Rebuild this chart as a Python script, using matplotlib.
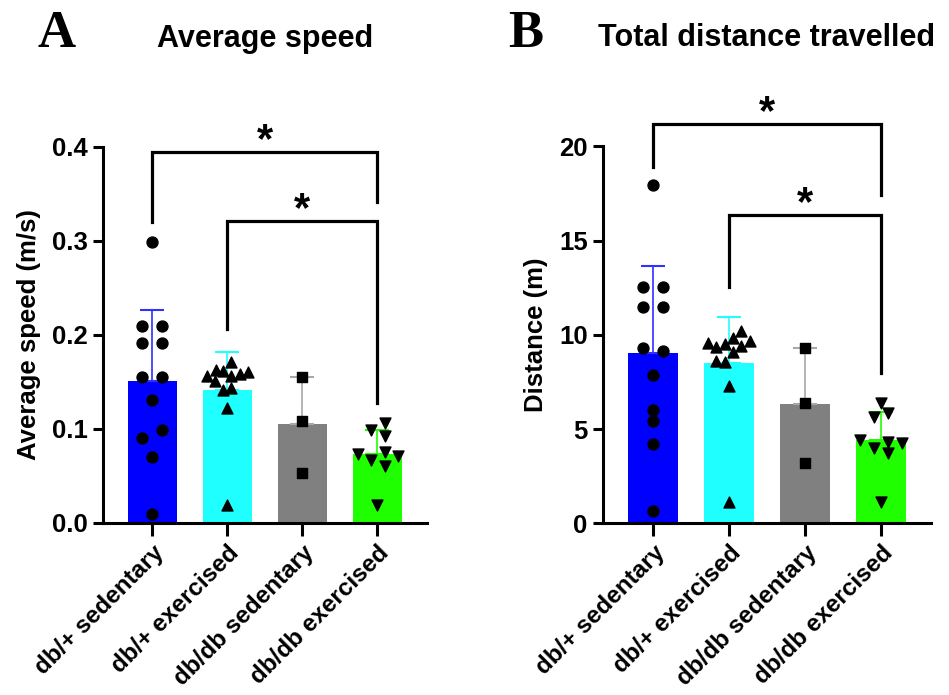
import matplotlib
matplotlib.use('Agg')
import matplotlib.pyplot as plt
import numpy as np

plt.rcParams['font.family'] = ['Liberation Sans', 'DejaVu Sans']
plt.rcParams['font.weight'] = 'bold'

# Groups and bar values (mean, SD)
groups = ['db/+ sedentary', 'db/+ exercised', 'db/db sedentary', 'db/db exercised']
bar_colors = ['#0000ff', '#20ffff', '#808080', '#20ff00']
err_colors = ['#3030ff', '#20ffff', '#a8a8a8', '#20ff00']
markers = ['o', '^', 's', 'v']

speed_mean = [0.151, 0.142, 0.105, 0.073]
speed_sd = [0.076, 0.040, 0.050, 0.026]
distance_mean = [9.05, 8.48, 6.31, 4.42]
distance_sd = [4.59, 2.47, 2.97, 1.50]

# Individual animals
speed_sed_het = [0.299, 0.210, 0.210, 0.191, 0.191, 0.155, 0.155, 0.131, 0.099, 0.090, 0.070, 0.010]
speed_ex_het = [0.171, 0.163, 0.162, 0.156, 0.159, 0.161, 0.156, 0.151, 0.142, 0.144, 0.122, 0.019]
speed_sed_db = [0.155, 0.108, 0.053]
speed_ex_db = [0.106, 0.099, 0.093, 0.073, 0.067, 0.075, 0.071, 0.061, 0.019]

dist_sed_het = [17.94, 12.55, 12.55, 11.49, 11.49, 9.28, 9.15, 7.86, 6.01, 5.44, 4.19, 0.67]
dist_ex_het = [10.21, 9.81, 9.68, 9.58, 9.33, 9.51, 9.40, 9.07, 8.62, 8.54, 7.28, 1.15]
dist_sed_db = [9.28, 6.39, 3.21]
dist_ex_db = [6.39, 5.62, 5.83, 4.42, 3.98, 4.33, 4.27, 3.71, 1.15]

# horizontal scatter of the points (layout only)
speed_jitter = [
    [0, -0.133, 0.133, -0.133, 0.133, -0.133, 0.133, 0, 0.133, -0.133, 0, 0],
    [0.053, -0.156, -0.053, -0.276, 0.169, 0.276, 0.053, -0.169, -0.053, 0.053, 0, 0],
    [0, 0, 0],
    [0.098, -0.08, 0.098, -0.258, -0.08, 0.098, 0.276, 0.098, 0],
]
dist_jitter = [
    [0, -0.13, 0.13, -0.13, 0.13, -0.13, 0.13, 0, 0, 0, 0, 0],
    [0.162, 0.053, 0.272, -0.276, -0.167, -0.057, 0.162, 0.053, -0.167, -0.057, 0, 0],
    [0, 0, 0],
    [0, -0.096, 0.088, -0.272, -0.088, 0.088, 0.276, 0.088, 0],
]

# significance brackets: (from group, to group, top, left leg end, right leg end)
speed_sig = [(0, 3, 0.395, 0.320, 0.342), (1, 3, 0.321, 0.206, 0.128)]
dist_sig = [(0, 3, 21.16, 18.88, 17.4), (1, 3, 16.35, 12.55, 7.95)]


def draw_panel(ax, means, sds, points, jitter, sig, ymax, yticks, ylabel, title, fmt):
    x = np.arange(len(groups))
    ax.bar(x, means, width=0.65, color=bar_colors, zorder=1)
    for i in range(len(groups)):
        ax.errorbar(x[i], means[i], yerr=[[0], [sds[i]]], fmt='none',
                    ecolor=err_colors[i], elinewidth=1.2, capsize=8.5,
                    capthick=1.5, zorder=2)
        ax.scatter(x[i] + np.array(jitter[i]), points[i], marker=markers[i],
                   s=62, color='black', zorder=3, clip_on=False)
    for a, b, top, left_end, right_end in sig:
        ax.plot([a, a, b, b], [left_end, top, top, right_end], color='black',
                lw=2.3, clip_on=False, solid_joinstyle='miter')
        ax.annotate('*', xy=((a + b) / 2, top), xytext=(0, 0),
                    textcoords='offset points', ha='center', va='baseline',
                    fontsize=30, fontweight='bold', annotation_clip=False)
    ax.set_xlim(-0.66, 3.66)
    ax.set_ylim(0, ymax)
    ax.set_yticks(yticks)
    ax.set_yticklabels([fmt.format(t) for t in yticks])
    ax.set_xticks(x)
    ax.set_xticklabels(groups, rotation=45, ha='right', rotation_mode='anchor')
    for s in ['top', 'right']:
        ax.spines[s].set_visible(False)
    for s in ['left', 'bottom']:
        ax.spines[s].set_linewidth(2.2)
    ax.tick_params(axis='both', width=2.2, length=7.5, labelsize=18.5)
    ax.tick_params(axis='x', length=9, pad=4, labelsize=17.5)
    ax.set_ylabel(ylabel, fontsize=18.5, fontweight='bold', labelpad=8)
    ax.set_title(title, fontsize=22, fontweight='bold', pad=72)


fig = plt.figure(figsize=(9.49, 6.95), dpi=100)
ax1 = fig.add_axes([0.1085, 0.2475, 0.3414, 0.541])
ax2 = fig.add_axes([0.6354, 0.247, 0.3457, 0.5425])

draw_panel(ax1, speed_mean, speed_sd,
           [speed_sed_het, speed_ex_het, speed_sed_db, speed_ex_db], speed_jitter,
           speed_sig, 0.4, [0.0, 0.1, 0.2, 0.3, 0.4], 'Average speed (m/s)',
           'Average speed', '{:.1f}')
draw_panel(ax2, distance_mean, distance_sd,
           [dist_sed_het, dist_ex_het, dist_sed_db, dist_ex_db], dist_jitter,
           dist_sig, 20, [0, 5, 10, 15, 20], 'Distance (m)',
           'Total distance travelled', '{:.0f}')

fig.text(38 / 949, 1 - 47 / 695, 'A', family=['Liberation Serif', 'DejaVu Serif'],
         fontsize=38, fontweight='bold', ha='left', va='baseline')
fig.text(508 / 949, 1 - 47 / 695, 'B', family=['Liberation Serif', 'DejaVu Serif'],
         fontsize=38, fontweight='bold', ha='left', va='baseline')

fig.savefig('out.png', dpi=100)
